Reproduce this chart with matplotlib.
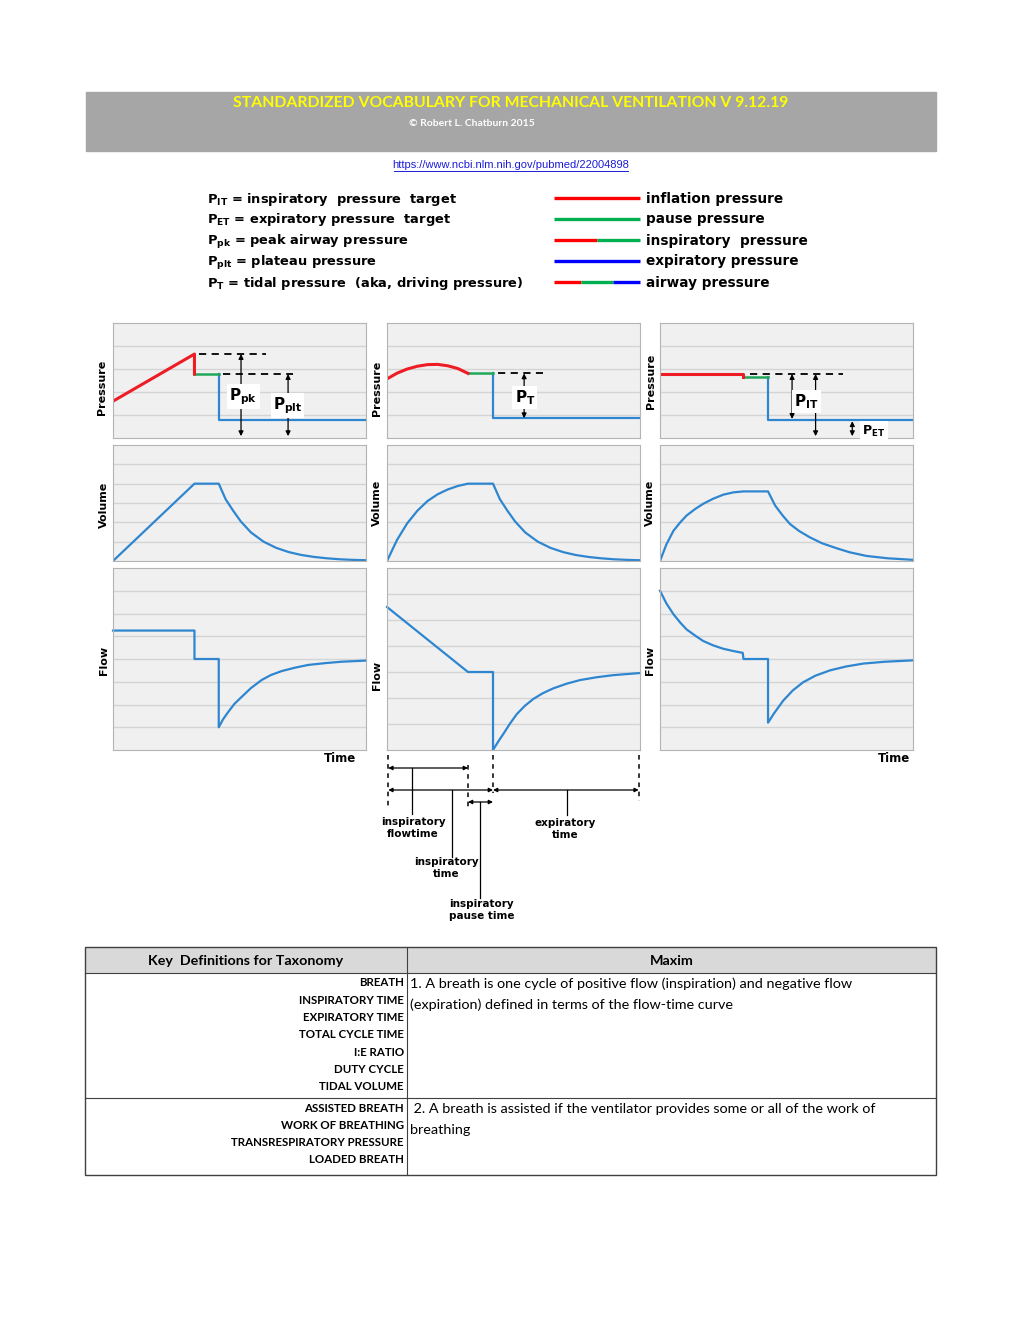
import numpy as np
import matplotlib.pyplot as plt
from matplotlib.patches import Rectangle
from matplotlib.transforms import blended_transform_factory

# ---------------- data ----------------
title = 'STANDARDIZED VOCABULARY FOR MECHANICAL VENTILATION V 9.12.19'
url = 'https://www.ncbi.nlm.nih.gov/pubmed/22004898'

sym_labels = [r'$\mathbf{P_{IT}}$ = inspiratory  pressure  target',
              r'$\mathbf{P_{ET}}$ = expiratory pressure  target',
              r'$\mathbf{P_{pk}}$ = peak airway pressure',
              r'$\mathbf{P_{plt}}$ = plateau pressure',
              r'$\mathbf{P_{T}}$ = tidal pressure  (aka, driving pressure)']
line_labels = ['inflation pressure', 'pause pressure', 'inspiratory  pressure',
               'expiratory pressure', 'airway pressure']

# column 1 : constant flow
p1_red_t = [0, 3.22, 3.22]
p1_red_v = [1.6, 3.65, 2.78]
p1_grn_t = [3.22, 4.18]
p1_grn_v = [2.78, 2.78]
p1_blu_t = [4.18, 4.18, 10]
p1_blu_v = [2.78, 0.78, 0.78]
v1_t = [0, 3.22, 4.18, 4.45, 4.75, 5.05, 5.45, 5.95, 6.45, 6.95, 7.45, 7.95, 8.45, 8.95, 9.45, 10]
v1_v = [0, 4.0, 4.0, 3.2, 2.6, 2.05, 1.48, 1.0, 0.68, 0.46, 0.31, 0.21, 0.14, 0.09, 0.06, 0.04]
f1_t = [0, 3.22, 3.22, 4.18, 4.18, 4.35, 4.56, 4.8, 5.09, 5.45, 5.88, 6.25, 6.67, 7.2, 7.72, 8.4, 9.04, 10]
f1_v = [5.25, 5.25, 4.0, 4.0, 1.0, 1.35, 1.68, 2.03, 2.34, 2.72, 3.08, 3.3, 3.47, 3.62, 3.74, 3.82, 3.88, 3.93]

# column 2 : descending ramp flow
p2_red_t = [0, 0.4, 0.8, 1.2, 1.6, 2.0, 2.4, 2.8, 3.2]
p2_red_v = [2.57, 2.82, 3.0, 3.12, 3.19, 3.2, 3.14, 3.02, 2.81]
p2_grn_t = [3.2, 4.19]
p2_grn_v = [2.81, 2.81]
p2_blu_t = [4.19, 4.19, 10]
p2_blu_v = [2.81, 0.86, 0.86]
v2_t = [0, 0.4, 0.8, 1.2, 1.6, 2.0, 2.4, 2.8, 3.2, 4.19, 4.46, 4.76, 5.06, 5.46, 5.96, 6.46,
        6.96, 7.46, 7.96, 8.46, 8.96, 9.46, 10]
v2_v = [0, 1.1, 1.95, 2.6, 3.1, 3.45, 3.7, 3.88, 4.0, 4.0, 3.2, 2.6, 2.05, 1.48, 1.0, 0.68,
        0.46, 0.31, 0.21, 0.14, 0.09, 0.06, 0.04]
f2_t = [0, 3.2, 4.19, 4.19, 4.4, 4.6, 4.85, 5.13, 5.45, 5.78, 6.15, 6.57, 7.1, 7.63, 8.3, 8.95, 10]
f2_v = [5.5, 3.0, 3.0, 0.0, 0.33, 0.62, 1.0, 1.38, 1.7, 1.96, 2.18, 2.37, 2.55, 2.69, 2.8, 2.88, 2.96]

# column 3 : pressure control
p3_red_t = [0, 3.3, 3.3]
p3_red_v = [2.78, 2.78, 2.65]
p3_grn_t = [3.3, 4.27]
p3_grn_v = [2.65, 2.65]
p3_blu_t = [4.27, 4.27, 10]
p3_blu_v = [2.65, 0.78, 0.78]
v3_t = [0, 0.25, 0.53, 0.8, 1.05, 1.4, 1.71, 2.1, 2.5, 2.9, 3.3, 4.27, 4.55, 4.85, 5.14, 5.5,
        5.93, 6.4, 6.98, 7.5, 8.17, 9.0, 10]
v3_v = [0, 0.85, 1.56, 2.0, 2.35, 2.7, 2.96, 3.22, 3.43, 3.55, 3.6, 3.6, 2.87, 2.35, 1.91, 1.55,
        1.22, 0.92, 0.66, 0.45, 0.26, 0.14, 0.06]
f3_t = [0, 0.25, 0.53, 0.8, 1.05, 1.4, 1.71, 2.1, 2.5, 2.9, 3.27, 3.3, 4.27, 4.27, 4.5, 4.87,
        5.25, 5.66, 6.15, 6.72, 7.35, 8.04, 8.9, 10]
f3_v = [7.0, 6.45, 5.97, 5.6, 5.3, 5.02, 4.79, 4.6, 4.45, 4.35, 4.27, 4.0, 4.0, 1.2, 1.6, 2.17,
        2.62, 2.98, 3.27, 3.5, 3.67, 3.8, 3.88, 3.94]

# timing marks (column 2)
t_start, t_flow, t_insp, t_end = 0.05, 3.2, 4.19, 9.95

key_terms_1 = ['BREATH', 'INSPIRATORY TIME', 'EXPIRATORY TIME', 'TOTAL CYCLE TIME',
               'I:E RATIO', 'DUTY CYCLE', 'TIDAL VOLUME']
key_terms_2 = ['ASSISTED BREATH', 'WORK OF BREATHING', 'TRANSRESPIRATORY PRESSURE', 'LOADED BREATH']
maxim_1 = ['1. A breath is one cycle of positive flow (inspiration) and negative flow',
           '(expiration) defined in terms of the flow-time curve']
maxim_2 = [' 2. A breath is assisted if the ventilator provides some or all of the work of',
           'breathing']

RED, GRN, BLU = '#ee1c25', '#1fa85a', '#2f86d0'

# ---------------- figure ----------------
W, H = 1020, 1320
fig = plt.figure(figsize=(W / 100, H / 100), dpi=100)

over = fig.add_axes([0, 0, 1, 1])
over.set_xlim(0, W)
over.set_ylim(H, 0)
over.axis('off')


def px_axes(x0, y0, x1, y1):
    return fig.add_axes([x0 / W, 1 - y1 / H, (x1 - x0) / W, (y1 - y0) / H])


# header
over.add_patch(Rectangle((86, 92), 850, 59, color='#a6a6a6'))
over.text(511, 103, title, color='#ffff00', fontsize=11.3, fontweight='bold',
          family='Lato', ha='center', va='center')
over.text(472, 124, '\u00a9 Robert L. Chatburn 2015', color='white', fontsize=7.5,
          fontweight='bold', family='Lato', ha='center', va='center')
over.text(511, 165, url, color='#1c1cd8', fontsize=8, family='Liberation Sans',
          ha='center', va='center')
over.plot([394, 628], [170.5, 170.5], color='#1c1cd8', lw=0.7)

# legend
for i, s in enumerate(sym_labels):
    over.text(207, 202.5 + 21 * i, s, fontsize=9.4, fontweight='bold', ha='left', va='baseline')
leg_segments = [[('#ff0000', 0, 1)], [('#00b050', 0, 1)],
                [('#ff0000', 0, 0.5), ('#00b050', 0.5, 1)], [('#0000ff', 0, 1)],
                [('#ff0000', 0, 0.31), ('#00b050', 0.31, 0.69), ('#0000ff', 0.69, 1)]]
for i, segs in enumerate(leg_segments):
    y = 198 + 21 * i
    for c, a, b in segs:
        over.plot([554 + 86 * a, 554 + 86 * b], [y, y], color=c, lw=2.4, solid_capstyle='butt')
    over.text(646, y + 4.5, line_labels[i], fontsize=9.8, fontweight='bold', ha='left',
              va='baseline')

# panels
col_x = [(113, 366), (387, 640), (660, 913)]
row_y = [(323, 438), (445, 561), (568, 750)]


def panel(col, row, ymax):
    x0, x1 = col_x[col]
    y0, y1 = row_y[row]
    ax = px_axes(x0, y0, x1, y1)
    ax.set_facecolor('#f0f0f0')
    ax.set_xlim(0, 10)
    ax.set_ylim(0, ymax)
    ax.set_xticks([])
    ax.set_yticks(range(1, ymax))
    ax.tick_params(length=0, labelleft=False)
    ax.grid(axis='y', color='#d4d4d4', lw=1)
    ax.set_axisbelow(True)
    for sp in ax.spines.values():
        sp.set_color('#b4b4b4')
    return ax


def dash(ax, a, b, y):
    ax.plot([a, b], [y, y], color='black', lw=1.3, dashes=(4, 3))


def darrow(ax, t, ya, yb):
    ax.annotate('', xy=(t, yb), xytext=(t, ya),
                arrowprops=dict(arrowstyle='<|-|>', color='black', lw=0.9,
                                mutation_scale=7, shrinkA=0, shrinkB=0))


def plabel(ax, t, y, s, size=11):
    ax.text(t, y, s, fontsize=size, fontweight='bold', ha='center', va='center',
            bbox=dict(facecolor='white', edgecolor='none', pad=1.5))


pressure = [(p1_red_t, p1_red_v, p1_grn_t, p1_grn_v, p1_blu_t, p1_blu_v),
            (p2_red_t, p2_red_v, p2_grn_t, p2_grn_v, p2_blu_t, p2_blu_v),
            (p3_red_t, p3_red_v, p3_grn_t, p3_grn_v, p3_blu_t, p3_blu_v)]
volume = [(v1_t, v1_v), (v2_t, v2_v), (v3_t, v3_v)]
flow = [(f1_t, f1_v, 8), (f2_t, f2_v, 7), (f3_t, f3_v, 8)]

p_axes, f_axes = [], []
for c in range(3):
    ax = panel(c, 0, 5)
    rt, rv, gt, gv, bt, bv = pressure[c]
    ax.plot(bt, bv, color=BLU, lw=1.6)
    ax.plot(gt, gv, color=GRN, lw=1.8)
    ax.plot(rt, rv, color=RED, lw=2.2)
    p_axes.append(ax)

    ax = panel(c, 1, 6)
    ax.plot(*volume[c], color=BLU, lw=1.6)

    ft, fv, fm = flow[c]
    ax = panel(c, 2, fm)
    ax.plot(ft, fv, color=BLU, lw=1.6, clip_on=False)
    f_axes.append(ax)

# pressure annotations
ax = p_axes[0]
dash(ax, 3.4, 6.05, max(p1_red_v))
dash(ax, 4.35, 7.11, p1_grn_v[0])
darrow(ax, 5.06, max(p1_red_v), 0.08)
darrow(ax, 6.92, p1_grn_v[0], 0.08)
plabel(ax, 5.15, 1.8, r'$\mathbf{P_{pk}}$')
plabel(ax, 6.9, 1.42, r'$\mathbf{P_{plt}}$')

ax = p_axes[1]
dash(ax, 4.4, 6.15, p2_grn_v[0])
darrow(ax, 5.42, p2_grn_v[0], p2_blu_v[-1])
plabel(ax, 5.45, 1.75, r'$\mathbf{P_{T}}$')

ax = p_axes[2]
dash(ax, 3.56, 7.22, p3_red_v[0])
darrow(ax, 5.22, p3_red_v[0], p3_blu_v[-1] + 0.05)
darrow(ax, 6.15, p3_red_v[0], 0.08)
darrow(ax, 7.6, p3_blu_v[-1] - 0.05, 0.08)
plabel(ax, 5.8, 1.6, r'$\mathbf{P_{IT}}$')
plabel(ax, 8.45, 0.3, r'$\mathbf{P_{ET}}$', size=9)

# axis names
lab_kw = dict(rotation=90, fontsize=8, fontweight='bold', ha='center', va='center')
for x, y, s in [(102, 387, 'Pressure'), (104, 505, 'Volume'), (104, 660, 'Flow'),
                (377, 388, 'Pressure'), (377, 503, 'Volume'), (377, 675, 'Flow'),
                (651, 381, 'Pressure'), (650, 503, 'Volume'), (650, 660, 'Flow')]:
    over.text(x, y, s, **lab_kw)
over.text(340, 759, 'Time', fontsize=8.5, fontweight='bold', ha='center', va='center')
over.text(894, 759, 'Time', fontsize=8.5, fontweight='bold', ha='center', va='center')

# timing annotation under column 2
tr = blended_transform_factory(f_axes[1].transData, over.transData)
for t, ya, yb in [(t_start, 755, 807), (t_flow, 765, 807), (t_insp, 755, 793), (t_end, 755, 801)]:
    over.plot([t, t], [ya, yb], color='black', lw=1.1, dashes=(3, 3), transform=tr)


def tarrow(a, b, y):
    over.annotate('', xy=(b, y), xytext=(a, y), xycoords=tr, textcoords=tr,
                  arrowprops=dict(arrowstyle='<|-|>', color='black', lw=0.9,
                                  mutation_scale=6, shrinkA=0, shrinkB=0))


tarrow(t_start, t_flow, 768)
tarrow(t_start, t_insp, 790)
tarrow(t_insp, t_end, 790)
tarrow(t_flow, t_insp, 802)
for t, ya, yb in [(0.99, 768, 814), (2.57, 790, 857), (7.11, 790, 815), (3.68, 802, 898)]:
    over.plot([t, t], [ya, yb], color='black', lw=0.9, transform=tr)
tk = dict(fontsize=7.5, fontweight='bold', ha='center', va='top', linespacing=1.3, transform=tr)
over.text(1.03, 817, 'inspiratory\nflowtime', **tk)
over.text(2.33, 857, 'inspiratory\ntime', **tk)
over.text(7.04, 818, 'expiratory\ntime', **tk)
over.text(3.75, 899, 'inspiratory\npause time', **tk)

# table
over.add_patch(Rectangle((85, 947), 851, 26, facecolor='#d9d9d9', edgecolor='none'))
over.add_patch(Rectangle((85, 947), 851, 228, facecolor='none', edgecolor='#404040', lw=1))
over.plot([85, 936], [973, 973], color='#404040', lw=0.8)
over.plot([85, 936], [1098, 1098], color='#404040', lw=0.8)
over.plot([407, 407], [947, 1175], color='#404040', lw=0.8)
over.text(246, 961, 'Key  Definitions for Taxonomy', family='Lato', fontsize=10.3,
          fontweight='bold', ha='center', va='center')
over.text(672, 961, 'Maxim', family='Lato', fontsize=10.3, fontweight='bold',
          ha='center', va='center')
for i, s in enumerate(key_terms_1):
    over.text(404, 983 + 17.3 * i, s, family='Lato', fontsize=8.3, fontweight='bold',
              ha='right', va='center')
for i, s in enumerate(key_terms_2):
    over.text(404, 1108 + 17.3 * i, s, family='Lato', fontsize=8.3, fontweight='bold',
              ha='right', va='center')
for i, s in enumerate(maxim_1):
    over.text(410, 984 + 21 * i, s, family='Lato', fontsize=10.4, ha='left', va='center')
for i, s in enumerate(maxim_2):
    over.text(410, 1109 + 21 * i, s, family='Lato', fontsize=10.4, ha='left', va='center')

fig.savefig('out.png', dpi=100)
